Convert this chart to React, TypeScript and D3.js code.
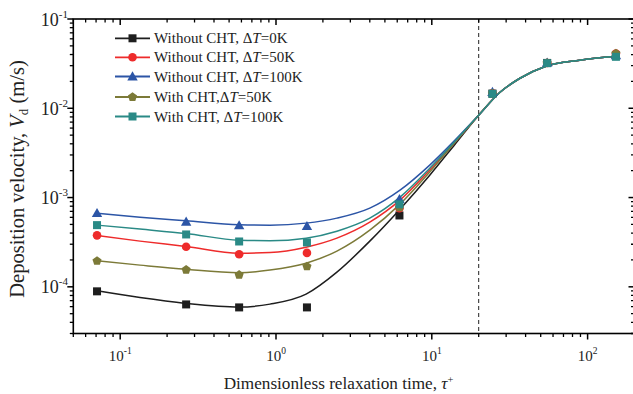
import React from "react";
import * as d3 from "d3";

// Measured points
const tauPts = [0.071, 0.265, 0.58, 1.58, 6.2, 24.5, 55, 152];
const sNoCHT0 = [8.9e-5, 6.35e-5, 5.88e-5, 5.88e-5, 6.3e-4, 0.0146, 0.0322, 0.0392];
const sNoCHT50 = [3.77e-4, 2.81e-4, 2.32e-4, 2.4e-4, 7.6e-4, 0.0147, 0.0322, 0.041];
const sNoCHT100 = [6.68e-4, 5.35e-4, 4.88e-4, 4.79e-4, 9.6e-4, 0.0152, 0.0325, 0.0392];
const sCHT50 = [1.95e-4, 1.55e-4, 1.36e-4, 1.69e-4, 7.75e-4, 0.0146, 0.0322, 0.041];
const sCHT100 = [4.91e-4, 3.86e-4, 3.22e-4, 3.14e-4, 8.4e-4, 0.0145, 0.032, 0.0377];

// Fitted curves
const tauFit = [0.071, 0.134, 0.264, 0.58, 0.915, 1.56, 2.46, 4.0, 6.25, 9.7, 14.1, 20, 27.4, 36.8, 54, 89, 152];
const tail = [0.00837, 0.0151, 0.0217, 0.0296, 0.0346, 0.0383];
const fNoCHT0 = [9.02e-5, 7.57e-5, 6.52e-5, 5.93e-5, 6.4e-5, 8.28e-5, 1.46e-4, 3.25e-4, 7.41e-4, 1.78e-3, 3.96e-3, ...tail];
const fNoCHT50 = [3.76e-4, 3.25e-4, 2.83e-4, 2.38e-4, 2.42e-4, 2.78e-4, 3.51e-4, 5.3e-4, 9.35e-4, 2.03e-3, 4.17e-3, ...tail];
const fNoCHT100 = [6.69e-4, 6.03e-4, 5.51e-4, 4.97e-4, 4.91e-4, 5.17e-4, 5.88e-4, 7.61e-4, 1.21e-3, 2.31e-3, 4.4e-3, ...tail];
const fCHT50 = [1.955e-4, 1.75e-4, 1.57e-4, 1.44e-4, 1.54e-4, 1.84e-4, 2.51e-4, 4.31e-4, 8.44e-4, 1.93e-3, 4.17e-3, ...tail];
const fCHT100 = [4.91e-4, 4.43e-4, 3.96e-4, 3.33e-4, 3.29e-4, 3.51e-4, 4.2e-4, 5.88e-4, 1.01e-3, 2.13e-3, 4.28e-3, ...tail];

const legendPrefix = ["Without CHT, ", "Without CHT, ", "Without CHT, ", "With CHT,", "With CHT, "];
const legendSuffix = ["=0K", "=50K", "=100K", "=50K", "=100K"];
const colors = ["#1e1e1e", "#ee2b2b", "#2c55a6", "#7c7a38", "#2a8a86"];
const shapes = ["square", "circle", "triangle", "pentagon", "square"];

const xMajor = [0.1, 1, 10, 100];
const xMajorExp = ["-1", "0", "1", "2"];
const yMajor = [0.1, 0.01, 0.001, 0.0001];
const yMajorExp = ["-1", "-2", "-3", "-4"];
const dashedTau = 20;

const W = 633, H = 394;
const L = 73.3, R = 634.5, T = 19, B = 333.5;

function Marker({ shape, x, y, color }: { shape: string; x: number; y: number; color: string }) {
  if (shape === "square") return <rect x={x - 4} y={y - 4} width={8} height={8} fill={color} />;
  if (shape === "circle") return <circle cx={x} cy={y} r={4.3} fill={color} />;
  if (shape === "triangle") {
    const r = 5.2;
    return <path d={`M${x},${y - r}L${x + r},${y + r * 0.75}L${x - r},${y + r * 0.75}Z`} fill={color} />;
  }
  const pts = d3.range(5).map((i) => {
    const a = -Math.PI / 2 + (i * 2 * Math.PI) / 5;
    return [x + 4.8 * Math.cos(a), y + 4.8 * Math.sin(a)];
  });
  return <path d={"M" + pts.map((p) => p.join(",")).join("L") + "Z"} fill={color} />;
}

export default function App() {
  const x = d3.scaleLog().domain([0.05, 200]).range([L, R]);
  const y = d3.scaleLog().domain([3e-5, 0.1]).range([B, T]);
  const pts = [sNoCHT0, sNoCHT50, sNoCHT100, sCHT50, sCHT100];
  const fits = [fNoCHT0, fNoCHT50, fNoCHT100, fCHT50, fCHT100];
  const line = d3
    .line<[number, number]>()
    .x((d) => x(d[0]))
    .y((d) => y(d[1]))
    .curve(d3.curveMonotoneX);

  const xMinor: number[] = [];
  [0.01, 0.1, 1, 10, 100].forEach((dec) => {
    for (let k = 2; k <= 9; k++) {
      const v = dec * k;
      if (v >= 0.05 && v <= 200) xMinor.push(v);
    }
  });
  const yMinor: number[] = [];
  [1e-5, 1e-4, 1e-3, 1e-2].forEach((dec) => {
    for (let k = 2; k <= 9; k++) {
      const v = dec * k;
      if (v > 3e-5 && v < 0.1) yMinor.push(v);
    }
  });

  const font = "'Liberation Serif', 'Times New Roman', serif";
  return (
    <svg width={W} height={H} style={{ position: "absolute", left: 0, top: 0 }} fontFamily={font}>
      <rect width={W} height={H} fill="#fff" />
      {/* dashed line */}
      <line x1={x(dashedTau)} x2={x(dashedTau)} y1={T} y2={B} stroke="#222" strokeWidth={1} strokeDasharray="4,3" />
      {/* curves */}
      {fits.map((f, i) => (
        <path key={"f" + i} d={line(tauFit.map((t, j) => [t, f[j]]))!} fill="none" stroke={colors[i]} strokeWidth={1.5} />
      ))}
      {/* points */}
      {pts.map((s, i) => (
        <g key={"p" + i}>
          {s.map((v, j) => (
            <Marker key={j} shape={shapes[i]} x={x(tauPts[j])} y={y(v)} color={colors[i]} />
          ))}
        </g>
      ))}
      {/* frame */}
      <rect x={L} y={T} width={R - L} height={B - T} fill="none" stroke="#000" strokeWidth={1.6} />
      {/* x ticks */}
      {xMajor.map((v) => (
        <g key={"xm" + v}>
          <line x1={x(v)} x2={x(v)} y1={B} y2={B + 6} stroke="#000" strokeWidth={1.5} />
          <line x1={x(v)} x2={x(v)} y1={T} y2={T + 6} stroke="#000" strokeWidth={1.5} />
        </g>
      ))}
      {xMinor.map((v) => (
        <g key={"xn" + v}>
          <line x1={x(v)} x2={x(v)} y1={B} y2={B + 3.5} stroke="#000" strokeWidth={1.3} />
          <line x1={x(v)} x2={x(v)} y1={T} y2={T + 3.5} stroke="#000" strokeWidth={1.3} />
        </g>
      ))}
      {/* y ticks */}
      {yMajor.map((v) => (
        <g key={"ym" + v}>
          <line x1={L - 6} x2={L} y1={y(v)} y2={y(v)} stroke="#000" strokeWidth={1.5} />
          <line x1={R - 6} x2={R} y1={y(v)} y2={y(v)} stroke="#000" strokeWidth={1.5} />
        </g>
      ))}
      {yMinor.map((v) => (
        <g key={"yn" + v}>
          <line x1={L - 3.5} x2={L} y1={y(v)} y2={y(v)} stroke="#000" strokeWidth={1.3} />
          <line x1={R - 3.5} x2={R} y1={y(v)} y2={y(v)} stroke="#000" strokeWidth={1.3} />
        </g>
      ))}
      {/* tick labels */}
      {xMajor.map((v, i) => (
        <text key={"xl" + v} x={x(v)} y={361} textAnchor="middle" fontSize={15} fill="#222">
          10<tspan dy={-7} fontSize={9.5}>{xMajorExp[i]}</tspan>
        </text>
      ))}
      {yMajor.map((v, i) => (
        <text key={"yl" + v} x={68} y={y(v) + 6.5} textAnchor="end" fontSize={18} fill="#222">
          10<tspan dy={-8} fontSize={11}>{yMajorExp[i]}</tspan>
        </text>
      ))}
      {/* axis titles */}
      <text x={338.5} y={389} textAnchor="middle" fontSize={17.2} fill="#222">
        Dimensionless relaxation time, <tspan fontStyle="italic">τ</tspan>
        <tspan dy={-6} fontSize={10.5}>+</tspan>
      </text>
      <text transform="translate(24,179) rotate(-90)" textAnchor="middle" fontSize={20.5} fill="#222">
        Deposition velocity, <tspan fontStyle="italic">V</tspan>
        <tspan dy={4} fontSize={13}>d</tspan>
        <tspan dy={-4}> (m/s)</tspan>
      </text>
      {/* legend */}
      {legendPrefix.map((p, i) => {
        const ly = [38.3, 57.3, 76.5, 97, 116.5][i];
        return (
          <g key={"lg" + i}>
            <line x1={115} x2={150} y1={ly} y2={ly} stroke={colors[i]} strokeWidth={1.8} />
            <Marker shape={shapes[i]} x={132.5} y={ly} color={colors[i]} />
            <text x={154} y={ly + 5} fontSize={15} fill="#222">
              {p}Δ<tspan fontStyle="italic">T</tspan>
              {legendSuffix[i]}
            </text>
          </g>
        );
      })}
    </svg>
  );
}
